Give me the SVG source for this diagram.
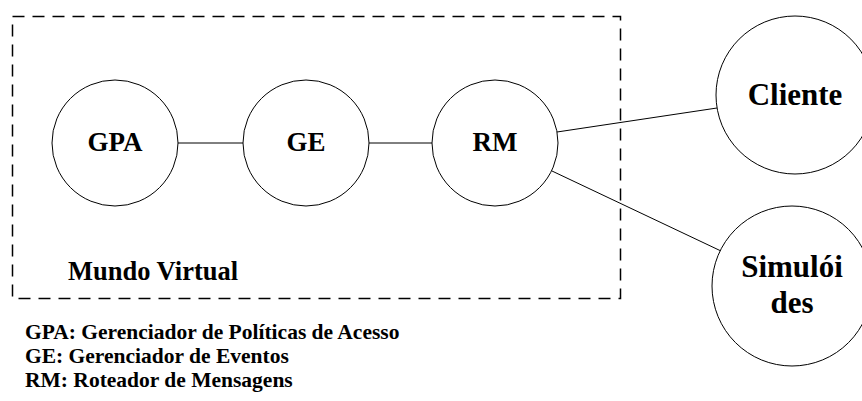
<svg xmlns="http://www.w3.org/2000/svg" width="862" height="401" viewBox="0 0 862 401">
<style>
.node{fill:#fff;stroke:#000;stroke-width:1}
.lbl{font-family:"Liberation Serif","Times New Roman",serif;font-weight:bold;fill:#000;text-anchor:middle}
.txt{font-family:"Liberation Serif","Times New Roman",serif;font-weight:bold;fill:#000}
.conn{stroke:#000;stroke-width:1;fill:none}
</style>
<rect width="862" height="401" fill="#fff"/>
<g id="mundo-virtual">
<rect x="12.5" y="16.5" width="608" height="282" fill="none" stroke="#000" stroke-width="1.5" stroke-dasharray="12,8"/>
<text class="txt" x="68" y="280" font-size="26.5">Mundo Virtual</text>
</g>
<g id="connectors">
<line class="conn" x1="178" y1="143" x2="243" y2="143"/>
<line class="conn" x1="369" y1="143" x2="432" y2="143"/>
<line class="conn" x1="557" y1="132" x2="717" y2="108"/>
<line class="conn" x1="552" y1="171" x2="721" y2="251"/>
</g>
<g id="gpa"><circle class="node" cx="115" cy="143" r="63"/><text class="lbl" x="115" y="151" font-size="27">GPA</text></g>
<g id="ge"><circle class="node" cx="306" cy="143" r="63"/><text class="lbl" x="306" y="151" font-size="27">GE</text></g>
<g id="rm"><circle class="node" cx="495" cy="143" r="63"/><text class="lbl" x="495" y="151" font-size="27">RM</text></g>
<g id="cliente"><circle class="node" cx="795" cy="95" r="79"/><text class="lbl" x="795" y="105" font-size="31">Cliente</text></g>
<g id="simuloides"><circle class="node" cx="792" cy="286" r="80"/><text class="lbl" x="792" y="277" font-size="31">Simulói</text><text class="lbl" x="792" y="313" font-size="31">des</text></g>
<g id="legenda">
<text class="txt" x="25" y="339" font-size="21.5">GPA: Gerenciador de Políticas de Acesso</text>
<text class="txt" x="25" y="363" font-size="21.5">GE: Gerenciador de Eventos</text>
<text class="txt" x="25" y="387" font-size="21.5">RM: Roteador de Mensagens</text>
</g>
</svg>
